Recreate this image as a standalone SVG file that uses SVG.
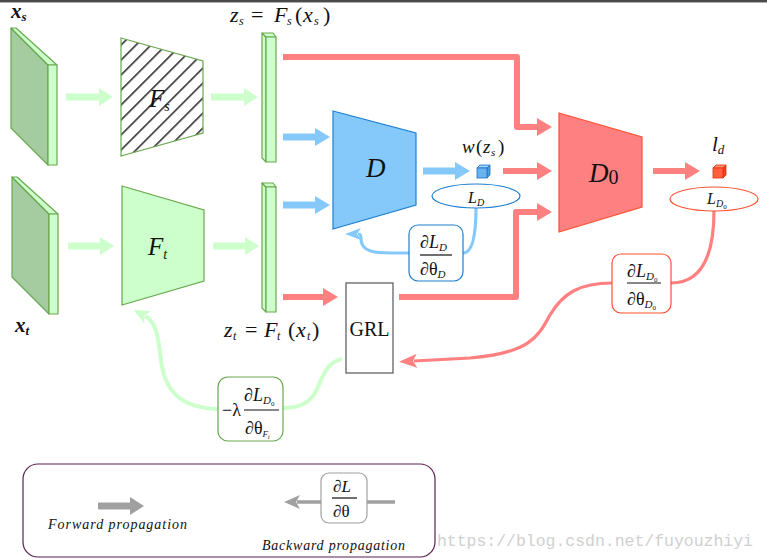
<svg xmlns="http://www.w3.org/2000/svg" width="767" height="560" viewBox="0 0 767 560">
<style>
  text { font-family: "Liberation Serif", "DejaVu Serif", serif; fill: #111; }
  .it { font-style: italic; }
  .slabDark { fill: #a4cca0; stroke: #6aa84f; stroke-width: 1.2; stroke-linejoin: round; }
  .slabLight { fill: #ccffcc; stroke: #6aa84f; stroke-width: 1.2; stroke-linejoin: round; }
  .fg { fill: none; stroke: #ccffcc; stroke-width: 7; }
  .fb { fill: none; stroke: #85c9fb; stroke-width: 7; }
  .fr { fill: none; stroke: #ff8080; stroke-width: 6; stroke-linejoin: round; }
  .bb { fill: none; stroke: #85c9fb; stroke-width: 3.2; }
  .br { fill: none; stroke: #ff8080; stroke-width: 3.2; }
  .bg { fill: none; stroke: #ccffcc; stroke-width: 4; }
  .bar { stroke: #111; stroke-width: 1.2; }
</style>
<defs>
  <pattern id="hatch" width="10.6" height="10.6" patternUnits="userSpaceOnUse" patternTransform="rotate(45)">
    <line x1="0.8" y1="0" x2="0.8" y2="10.6" stroke="#000" stroke-width="1.3"/>
  </pattern>
  <marker id="hg" markerUnits="userSpaceOnUse" viewBox="0 -9 14 18" refX="0" refY="0" markerWidth="14" markerHeight="18" orient="auto"><path d="M0,-9 L14,0 L0,9 z" fill="#ccffcc"/></marker>
  <marker id="hb" markerUnits="userSpaceOnUse" viewBox="0 -9 15 18" refX="0" refY="0" markerWidth="15" markerHeight="18" orient="auto"><path d="M0,-9 L15,0 L0,9 z" fill="#85c9fb"/></marker>
  <marker id="hr" markerUnits="userSpaceOnUse" viewBox="0 -9 15 18" refX="0" refY="0" markerWidth="15" markerHeight="18" orient="auto"><path d="M0,-9 L15,0 L0,9 z" fill="#ff8080"/></marker>
  <marker id="hgr" markerUnits="userSpaceOnUse" viewBox="0 -9 14 18" refX="0" refY="0" markerWidth="14" markerHeight="18" orient="auto"><path d="M0,-9 L14,0 L0,9 z" fill="#a0a0a0"/></marker>
  <marker id="bhb" markerUnits="userSpaceOnUse" viewBox="0 -6 16 12" refX="3" refY="0" markerWidth="16" markerHeight="12" orient="auto"><path d="M0,-6 L16,0 L0,6 L4,0 z" fill="#85c9fb"/></marker>
  <marker id="bhr" markerUnits="userSpaceOnUse" viewBox="0 -7 18 14" refX="3" refY="0" markerWidth="18" markerHeight="14" orient="auto"><path d="M0,-7 L18,0 L0,7 L4,0 z" fill="#ff8080"/></marker>
  <marker id="bhg" markerUnits="userSpaceOnUse" viewBox="0 -7 16 14" refX="3" refY="0" markerWidth="16" markerHeight="14" orient="auto"><path d="M0,-7 L16,0 L0,7 L4,0 z" fill="#ccffcc"/></marker>
  <marker id="bhgr" markerUnits="userSpaceOnUse" viewBox="0 -7 16 14" refX="3" refY="0" markerWidth="16" markerHeight="14" orient="auto"><path d="M0,-7 L16,0 L0,7 L4,0 z" fill="#a0a0a0"/></marker>
</defs>

<rect x="0" y="0" width="767" height="2" fill="#4a4a4a"/>
<rect x="0" y="2" width="767" height="1" fill="#b0b0b0"/>

<!-- connectors -->
<g id="connectors">
  <path class="fg" d="M66,97 L99,97" marker-end="url(#hg)"/>
  <path class="fg" d="M211,97 L244,97" marker-end="url(#hg)"/>
  <path class="fg" d="M68,246 L100,246" marker-end="url(#hg)"/>
  <path class="fg" d="M213,246 L245,246" marker-end="url(#hg)"/>
  <path class="fb" d="M283,137 L315,137" marker-end="url(#hb)"/>
  <path class="fb" d="M283,205 L315,205" marker-end="url(#hb)"/>
  <path class="fb" d="M423,171 L455,171" marker-end="url(#hb)"/>
  <path class="fr" d="M283,57 L517,57 L517,127 L537,127" marker-end="url(#hr)"/>
  <path class="fr" d="M503,171 L537,171" marker-end="url(#hr)"/>
  <path class="fr" d="M399,297 L516,297 L516,212 L537,212" marker-end="url(#hr)"/>
  <path class="fr" d="M283,297 L323,297" marker-end="url(#hr)"/>
  <path class="fr" d="M653,171 L685,171" marker-end="url(#hr)"/>
  <!-- backward -->
  <path class="bb" d="M476,208 C476,238 472,253 463,253"/>
  <path class="bb" d="M409,253 C382,253 366,254 362,244 C360,238 362,234 358,234" marker-end="url(#bhb)"/>
  <path class="br" d="M714,211 C714,250 705,283 671,283"/>
  <path class="br" d="M612,283 C580,283 563,293 550,315 C538,337 530,353 470,358 L414,361" marker-end="url(#bhr)"/>
  <path class="bg" d="M342,359 C325,362 322,380 315,393 C308,405 295,408 283,408"/>
  <path class="bg" d="M218,409 C185,408 165,395 161,360 C158,335 156,322 145,316" marker-end="url(#bhg)"/>
</g>

<g id="xs">
  <polygon class="slabDark" points="11,28 48,65 48,165 11,128"/>
  <polygon class="slabLight" points="11,28 16,28 57,65 48,65"/>
  <polygon class="slabLight" points="48,65 57,65 57,165 48,165"/>
  <text x="11" y="18" class="it" font-size="21" font-weight="bold">x<tspan font-size="13" dy="3">s</tspan></text>
</g>
<g id="xt">
  <polygon class="slabDark" points="12,177 49,214 49,314 12,277"/>
  <polygon class="slabLight" points="12,177 17,177 58,214 49,214"/>
  <polygon class="slabLight" points="49,214 58,214 58,314 49,314"/>
  <text x="15" y="332" class="it" font-size="21" font-weight="bold">x<tspan font-size="13" dy="3">t</tspan></text>
</g>

<g id="Fs">
  <polygon points="121,38 203,61 203,133 121,156" fill="url(#hatch)" stroke="#6aa84f" stroke-width="1.2"/>
  <text x="149" y="107" class="it" font-size="25">F<tspan font-size="14" dy="4">s</tspan></text>
</g>
<g id="Ft">
  <polygon points="122,186 204,210 204,281 122,305" fill="#ccffcc" stroke="#6aa84f" stroke-width="1.2"/>
  <text x="148" y="255" class="it" font-size="25">F<tspan font-size="14" dy="4">t</tspan></text>
</g>

<g id="zs">
  <polygon class="slabLight" points="262,33 266,37 266,162 262,158"/>
  <polygon class="slabLight" points="262,33 273,33 276,37 266,37"/>
  <polygon class="slabLight" points="266,37 276,37 276,162 266,162"/>
  <text y="22" font-size="22"><tspan x="230" class="it">z</tspan><tspan x="239" class="it" font-size="12" dy="3">s</tspan><tspan x="251" dy="-3">=</tspan><tspan x="274" class="it">F</tspan><tspan x="287" class="it" font-size="12" dy="3">s</tspan><tspan x="295" dy="-3">(</tspan><tspan x="303" class="it">x</tspan><tspan x="314" class="it" font-size="12" dy="3">s</tspan><tspan x="323" dy="-3">)</tspan></text>
</g>
<g id="zt">
  <polygon class="slabLight" points="262,183 266,187 266,312 262,308"/>
  <polygon class="slabLight" points="262,183 273,183 276,187 266,187"/>
  <polygon class="slabLight" points="266,187 276,187 276,312 266,312"/>
  <text y="337" font-size="22"><tspan x="224" class="it">z</tspan><tspan x="233" class="it" font-size="12" dy="3">t</tspan><tspan x="245" dy="-3">=</tspan><tspan x="264" class="it">F</tspan><tspan x="277" class="it" font-size="12" dy="3">t</tspan><tspan x="288" dy="-3">(</tspan><tspan x="296" class="it">x</tspan><tspan x="307" class="it" font-size="12" dy="3">t</tspan><tspan x="312" dy="-3">)</tspan></text>
</g>

<g id="D">
  <polygon points="333,111 416,133 416,205 333,229" fill="#85c9fb" stroke="#1f7fd0" stroke-width="1.2"/>
  <text x="366" y="177" class="it" font-size="27">D</text>
</g>
<g id="wzs">
  <polygon points="477,168 480,165 490,165 487,168" fill="#9ad2fb" stroke="#1f70c0" stroke-width="0.8"/>
  <polygon points="487,168 490,165 490,175 487,178" fill="#4a9ee0" stroke="#1f70c0" stroke-width="0.8"/>
  <rect x="477" y="168" width="10" height="10" fill="#6ab4ee" stroke="#1f70c0" stroke-width="0.8"/>
  <text y="153" font-size="19"><tspan x="462" class="it">w</tspan><tspan x="476">(</tspan><tspan x="483" class="it">z</tspan><tspan x="491" class="it" font-size="11" dy="3">s</tspan><tspan x="498" dy="-3">)</tspan></text>
</g>
<g id="LD">
  <ellipse cx="476" cy="196" rx="44" ry="12" fill="#fff" stroke="#1f7fd0" stroke-width="1.2"/>
  <text x="468" y="203" class="it" font-size="16">L<tspan font-size="10" dy="3">D</tspan></text>
</g>
<g id="gradD">
  <rect x="409" y="225" width="54" height="56" rx="9" fill="#fff" stroke="#1f7fd0" stroke-width="1.2"/>
  <text x="420" y="248" font-size="18">∂<tspan class="it">L</tspan><tspan class="it" font-size="11" dy="3">D</tspan></text>
  <line class="bar" x1="420" y1="255" x2="452" y2="255"/>
  <text x="420" y="275" font-size="18">∂θ<tspan class="it" font-size="11" dy="3">D</tspan></text>
</g>

<g id="D0">
  <polygon points="559,113 642,137 642,207 559,232" fill="#ff8080" stroke="#ff5030" stroke-width="1.2"/>
  <text x="589" y="182" font-size="27"><tspan class="it">D</tspan><tspan font-size="20" dy="2">0</tspan></text>
</g>
<g id="ld">
  <polygon points="713,168 716,165 726,165 723,168" fill="#ff9070" stroke="#e03010" stroke-width="0.8"/>
  <polygon points="723,168 726,165 726,175 723,178" fill="#f04020" stroke="#e03010" stroke-width="0.8"/>
  <rect x="713" y="168" width="10" height="10" fill="#ff6040" stroke="#e03010" stroke-width="0.8"/>
  <text x="712" y="151" class="it" font-size="21">l<tspan font-size="13" dy="3">d</tspan></text>
</g>
<g id="LD0">
  <ellipse cx="714" cy="199" rx="44" ry="12" fill="#fff" stroke="#ff5030" stroke-width="1.2"/>
  <text x="707" y="204" class="it" font-size="16">L<tspan font-size="10" dy="3">D</tspan><tspan font-size="7" dy="2" font-style="normal">0</tspan></text>
</g>
<g id="gradD0">
  <rect x="612" y="254" width="59" height="59" rx="9" fill="#fff" stroke="#ff5030" stroke-width="1.2"/>
  <text x="627" y="277" font-size="18">∂<tspan class="it">L</tspan><tspan class="it" font-size="11" dy="3">D</tspan><tspan font-size="7" dy="2">0</tspan></text>
  <line class="bar" x1="627" y1="283" x2="661" y2="283"/>
  <text x="627" y="305" font-size="18">∂θ<tspan class="it" font-size="11" dy="3">D</tspan><tspan font-size="7" dy="2">0</tspan></text>
</g>

<g id="GRL">
  <rect x="346" y="283" width="47" height="90" fill="#fff" stroke="#555" stroke-width="1.2"/>
  <text x="369.5" y="336" text-anchor="middle" font-size="20">GRL</text>
</g>
<g id="gradF">
  <rect x="218" y="377" width="65" height="64" rx="10" fill="#fff" stroke="#6aa84f" stroke-width="1.2"/>
  <text x="222" y="416" font-size="18">−λ</text>
  <text x="244" y="401" font-size="18">∂<tspan class="it">L</tspan><tspan class="it" font-size="11" dy="3">D</tspan><tspan font-size="7" dy="2">0</tspan></text>
  <line class="bar" x1="244" y1="410" x2="279" y2="410"/>
  <text x="245" y="434" font-size="18">∂θ<tspan class="it" font-size="9" dy="3">F</tspan><tspan class="it" font-size="6" dy="2">t</tspan></text>
</g>

<g id="legend">
  <rect x="23" y="464" width="412" height="93" rx="15" fill="#fff" stroke="#5a2050" stroke-width="1.2"/>
  <path d="M98,506 L130,506" fill="none" stroke="#a0a0a0" stroke-width="7" marker-end="url(#hgr)"/>
  <text x="48" y="529" class="it" font-size="14" textLength="139">Forward propagation</text>
  <path d="M395,502 L367,502" fill="none" stroke="#a0a0a0" stroke-width="3.5"/>
  <path d="M321,502 L297,502" fill="none" stroke="#a0a0a0" stroke-width="3.5" marker-end="url(#bhgr)"/>
  <rect x="321" y="473" width="46" height="50" rx="8" fill="#fff" stroke="#a0a0a0" stroke-width="1.2"/>
  <text x="333" y="492" font-size="17">∂<tspan class="it">L</tspan></text>
  <line class="bar" x1="332" y1="498" x2="357" y2="498"/>
  <text x="333" y="517" font-size="17">∂θ</text>
  <text x="262" y="550" class="it" font-size="14" textLength="143">Backward propagation</text>
</g>

<text x="437" y="546" font-size="16.5" style="fill:#d0d0d0; font-family:'Liberation Mono', monospace" textLength="316">https://blog.csdn.net/fuyouzhiyi</text>
</svg>
